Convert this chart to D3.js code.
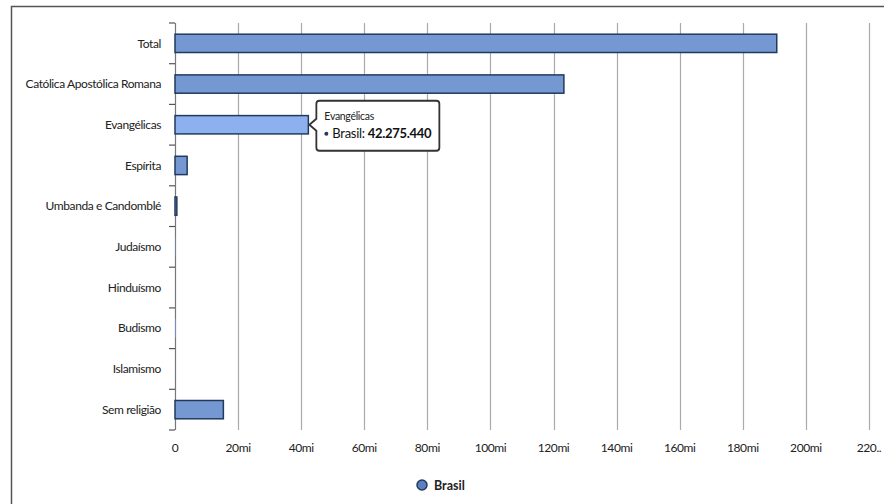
<!DOCTYPE html>
<html lang="pt">
<head>
<meta charset="UTF-8" />
<title>Religião - Brasil</title>
<script src="https://cdn.jsdelivr.net/npm/d3@7"></script>
<style>
  body { margin: 0; background: #fff; }
  svg text { font-family: Lato, "Open Sans", sans-serif; }
</style>
</head>
<body>
<script>
// data (Censo 2010)
var categories = ["Total", "Católica Apostólica Romana", "Evangélicas", "Espírita",
  "Umbanda e Candomblé", "Judaísmo", "Hinduísmo", "Budismo", "Islamismo", "Sem religião"];
var values = [190755799, 123280172, 42275440, 3848876, 588797, 107329, 5675, 243966, 35167, 15335510];
var tickValues = [0, 20e6, 40e6, 60e6, 80e6, 100e6, 120e6, 140e6, 160e6, 180e6, 200e6, 220e6];
var tickLabels = ["0", "20mi", "40mi", "60mi", "80mi", "100mi", "120mi", "140mi", "160mi", "180mi", "200mi", "220.."];
var seriesName = "Brasil";
var hovered = "Evangélicas";

var w = 884, h = 504;
var pLeft = 175, pRight = 869, pTop = 23, pBottom = 430;

var svg = d3.select("body").append("svg")
  .attr("width", w).attr("height", h);

// frame
svg.append("path")
  .attr("d", "M11.5," + h + "V6.5H" + w)
  .attr("fill", "none").attr("stroke", "#555").attr("stroke-width", 1.5);

var xScale = d3.scaleLinear().domain([0, 220e6]).range([pLeft, pRight]);
var yScale = d3.scaleBand().domain(categories).range([pTop, pBottom]).paddingInner(0.55).paddingOuter(0.275);

// grid
svg.selectAll("line.grid")
  .data(tickValues)
  .enter().append("line")
  .attr("class", "grid")
  .attr("x1", function(d) { return Math.round(xScale(d)) + 0.5; })
  .attr("x2", function(d) { return Math.round(xScale(d)) + 0.5; })
  .attr("y1", pTop).attr("y2", pBottom)
  .attr("stroke", function(d) { return d === 0 ? "#777" : "#aaa"; })
  .attr("stroke-width", 1.2);

// y ticks at band boundaries
var step = yScale.step();
var bounds = d3.range(categories.length + 1).map(function(i) { return pTop + i * step; });
svg.selectAll("line.ytick")
  .data(bounds)
  .enter().append("line")
  .attr("class", "ytick")
  .attr("x1", pLeft - 6).attr("x2", pLeft)
  .attr("y1", function(d) { return d; })
  .attr("y2", function(d) { return d; })
  .attr("stroke", "#555").attr("stroke-width", 1.2);

// category labels
svg.selectAll("text.cat")
  .data(categories)
  .enter().append("text")
  .attr("class", "cat")
  .attr("x", pLeft - 14)
  .attr("y", function(d) { return yScale(d) + yScale.bandwidth() / 2; })
  .attr("dy", "0.35em")
  .attr("text-anchor", "end")
  .attr("font-size", 12)
  .attr("letter-spacing", -0.4)
  .attr("fill", "#222")
  .text(function(d) { return d; });

// x tick labels
svg.selectAll("text.xtick")
  .data(tickValues)
  .enter().append("text")
  .attr("class", "xtick")
  .attr("x", function(d) { return xScale(d); })
  .attr("y", 452)
  .attr("text-anchor", "middle")
  .attr("font-size", 12)
  .attr("letter-spacing", -0.4)
  .attr("fill", "#222")
  .text(function(d, i) { return tickLabels[i]; });

// bars
svg.selectAll("rect.bar")
  .data(values)
  .enter().append("rect")
  .attr("class", "bar")
  .attr("x", xScale(0))
  .attr("y", function(d, i) { return yScale(categories[i]); })
  .attr("width", function(d) { return xScale(d) - xScale(0); })
  .attr("height", yScale.bandwidth())
  .attr("fill", function(d, i) { return categories[i] === hovered ? "#8cb1ee" : "#7598d2"; })
  .attr("stroke", function(d) { return xScale(d) - xScale(0) < 1 ? "none" : "#223a5e"; })
  .attr("stroke-width", 1.5);

// tooltip
var hi = categories.indexOf(hovered);
var tipX = xScale(values[hi]) + 8;
var tipY = yScale(hovered) + yScale.bandwidth() / 2;
var tw = 123, th = 50;
var tg = svg.append("g").attr("transform", "translate(" + tipX + "," + (tipY - 24) + ")");
tg.append("path")
  .attr("d", "M3,0H" + (tw - 3) + "Q" + tw + ",0 " + tw + ",3V" + (th - 3) + "Q" + tw + "," + th + " " + (tw - 3) + "," + th +
    "H3Q0," + th + " 0," + (th - 3) + "V30L-7,24L0,18V3Q0,0 3,0Z")
  .attr("fill", "#fff")
  .attr("stroke", "#333")
  .attr("stroke-width", 1.8);
tg.append("text")
  .attr("x", 8).attr("y", 19)
  .attr("font-size", 10.5)
  .attr("letter-spacing", -0.3)
  .attr("fill", "#222")
  .text(hovered);
tg.append("circle")
  .attr("cx", 10).attr("cy", 33).attr("r", 2)
  .attr("fill", "#223a5e");
var t2 = tg.append("text")
  .attr("x", 16).attr("y", 37.5)
  .attr("font-size", 13)
  .attr("letter-spacing", -0.3)
  .attr("fill", "#111");
t2.append("tspan").text(seriesName + ": ");
t2.append("tspan").attr("font-weight", "bold").text(d3.format(",")(values[hi]).replace(/,/g, "."));

// legend
svg.append("circle")
  .attr("cx", 422).attr("cy", 485).attr("r", 5)
  .attr("fill", "#5b7fbf").attr("stroke", "#223a5e").attr("stroke-width", 1.5);
svg.append("text")
  .attr("x", 434).attr("y", 489.5)
  .attr("font-size", 12.5)
  .attr("font-weight", "bold")
  .attr("fill", "#222")
  .text(seriesName);
</script>
</body>
</html>
